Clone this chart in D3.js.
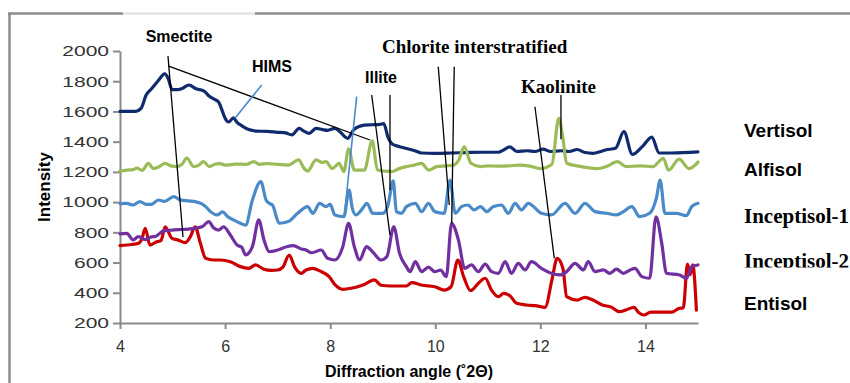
<!DOCTYPE html>
<html>
<head>
<meta charset="utf-8">
<script src="https://cdn.jsdelivr.net/npm/d3@7"></script>
<style>
  html, body { margin: 0; padding: 0; background: #fff; }
  svg { display: block; }
</style>
</head>
<body>
<div id="app"></div>
<script>
const width = 850;
const height = 383;
const plot = { left: 120, right: 698, top: 51, bottom: 323 };
const sans = "'Liberation Sans', Arial, sans-serif";
const serif = "'Liberation Serif', 'Times New Roman', serif";

// x ticks and y ticks
const xTicks = [4, 6, 8, 10, 12, 14];
const yTicks = [200, 400, 600, 800, 1000, 1200, 1400, 1600, 1800, 2000];

// series values: [2theta, intensity]
const vertisol = [[4.0,1600],[4.3,1600],[4.4,1620],[4.5,1710],[4.6,1750],[4.73,1805],[4.85,1848],[4.92,1815],[4.99,1745],[5.1,1745],[5.18,1752],[5.31,1775],[5.45,1750],[5.6,1735],[5.7,1700],[5.8,1680],[5.88,1660],[5.95,1600],[6.0,1555],[6.07,1530],[6.16,1558],[6.22,1530],[6.32,1505],[6.45,1480],[6.6,1470],[6.8,1468],[7.0,1462],[7.15,1458],[7.27,1445],[7.41,1488],[7.5,1470],[7.6,1455],[7.73,1488],[7.85,1480],[7.95,1475],[8.09,1488],[8.2,1460],[8.33,1422],[8.45,1480],[8.55,1500],[8.65,1510],[8.8,1512],[8.95,1515],[9.02,1520],[9.1,1430],[9.18,1385],[9.32,1367],[9.45,1355],[9.6,1342],[9.74,1325],[10.0,1323],[10.3,1325],[10.6,1328],[10.9,1330],[11.2,1330],[11.3,1345],[11.42,1365],[11.55,1335],[11.75,1340],[11.9,1335],[12.05,1350],[12.2,1335],[12.4,1340],[12.55,1335],[12.7,1348],[12.85,1328],[13.0,1323],[13.15,1335],[13.24,1345],[13.43,1356],[13.59,1466],[13.75,1316],[13.94,1367],[14.12,1430],[14.26,1325],[14.5,1325],[15.0,1332]];
const alfisol = [[4.0,1205],[4.13,1212],[4.25,1215],[4.32,1225],[4.42,1210],[4.54,1257],[4.63,1222],[4.75,1235],[4.86,1257],[4.97,1240],[5.08,1235],[5.18,1250],[5.27,1292],[5.4,1235],[5.5,1245],[5.59,1268],[5.7,1235],[5.8,1250],[5.9,1255],[6.0,1245],[6.2,1252],[6.4,1250],[6.55,1268],[6.65,1250],[6.8,1255],[7.0,1250],[7.2,1245],[7.4,1280],[7.5,1225],[7.57,1205],[7.73,1280],[7.85,1262],[7.92,1268],[8.04,1222],[8.17,1257],[8.26,1202],[8.35,1352],[8.46,1212],[8.65,1212],[8.8,1405],[8.9,1212],[9.05,1205],[9.17,1202],[9.3,1220],[9.45,1235],[9.6,1245],[9.74,1257],[9.87,1212],[10.03,1235],[10.2,1240],[10.35,1245],[10.45,1280],[10.55,1365],[10.68,1257],[10.86,1235],[11.0,1240],[11.2,1238],[11.4,1240],[11.6,1245],[11.8,1238],[12.0,1222],[12.22,1250],[12.35,1554],[12.43,1420],[12.5,1257],[12.7,1240],[12.9,1228],[13.07,1222],[13.25,1235],[13.47,1268],[13.63,1235],[13.9,1240],[14.14,1235],[14.34,1290],[14.44,1212],[14.64,1285],[14.83,1222],[15.0,1265]];
const inceptisol1 = [[4.0,990],[4.13,992],[4.25,981],[4.38,1003],[4.5,985],[4.6,985],[4.73,1014],[4.85,1005],[5.02,1036],[5.15,1015],[5.3,1008],[5.43,1003],[5.55,990],[5.63,970],[5.72,937],[5.85,915],[5.95,935],[6.05,904],[6.16,882],[6.29,860],[6.39,848],[6.52,1014],[6.68,1135],[6.78,1014],[6.85,990],[6.9,981],[7.03,860],[7.2,871],[7.38,926],[7.57,970],[7.67,926],[7.8,992],[7.92,970],[8.0,985],[8.09,915],[8.26,904],[8.36,1080],[8.42,960],[8.49,915],[8.6,950],[8.7,992],[8.81,926],[9.0,926],[9.1,980],[9.2,1140],[9.26,937],[9.36,926],[9.45,970],[9.62,992],[9.74,937],[9.87,992],[9.99,937],[10.17,926],[10.28,1146],[10.38,926],[10.5,970],[10.62,981],[10.74,948],[10.86,970],[10.98,937],[11.1,970],[11.26,981],[11.39,926],[11.52,992],[11.64,948],[11.77,992],[12.02,926],[12.21,915],[12.47,992],[12.66,926],[12.85,992],[13.04,937],[13.26,926],[13.45,915],[13.58,937],[13.74,970],[13.89,904],[14.08,926],[14.21,1030],[14.28,1146],[14.37,926],[14.59,926],[14.78,910],[14.88,970],[15.0,992]];
const inceptisol2 = [[4.0,790],[4.13,793],[4.25,750],[4.35,772],[4.48,752],[4.6,770],[4.67,772],[4.83,810],[5.0,815],[5.11,818],[5.25,820],[5.37,825],[5.56,837],[5.69,871],[5.78,830],[5.88,815],[5.97,837],[6.1,782],[6.23,716],[6.32,700],[6.39,650],[6.52,705],[6.64,882],[6.74,750],[6.84,672],[7.0,683],[7.17,705],[7.3,712],[7.45,690],[7.54,683],[7.65,665],[7.83,683],[7.95,628],[8.09,617],[8.24,705],[8.35,859],[8.46,705],[8.56,617],[8.69,705],[8.81,670],[8.97,617],[9.08,640],[9.21,837],[9.32,661],[9.45,573],[9.52,540],[9.62,606],[9.74,540],[9.87,570],[9.99,540],[10.1,550],[10.21,507],[10.31,859],[10.44,750],[10.56,562],[10.69,584],[10.82,540],[10.95,590],[11.07,540],[11.2,529],[11.33,606],[11.45,529],[11.58,595],[11.71,551],[11.83,606],[12.02,562],[12.21,529],[12.37,518],[12.5,540],[12.66,595],[12.82,551],[12.91,606],[13.04,540],[13.2,551],[13.32,529],[13.45,556],[13.58,529],[13.71,551],[13.8,562],[13.93,507],[14.08,496],[14.2,903],[14.31,727],[14.4,529],[14.65,518],[14.78,496],[14.88,573],[15.0,584]];
const entisol = [[4.0,712],[4.13,716],[4.35,727],[4.42,760],[4.48,827],[4.57,716],[4.7,738],[4.78,745],[4.86,837],[4.99,760],[5.1,750],[5.24,732],[5.34,772],[5.43,837],[5.53,727],[5.63,628],[5.78,617],[5.91,617],[6.1,606],[6.29,573],[6.45,562],[6.58,584],[6.74,556],[6.88,548],[7.0,551],[7.1,570],[7.22,650],[7.32,573],[7.45,529],[7.54,551],[7.67,562],[7.8,545],[7.98,507],[8.1,450],[8.24,423],[8.4,430],[8.49,437],[8.65,455],[8.84,485],[8.97,450],[9.15,445],[9.3,445],[9.45,445],[9.55,467],[9.75,450],[9.99,440],[10.17,418],[10.3,440],[10.43,617],[10.54,507],[10.67,415],[10.83,467],[10.95,496],[11.07,418],[11.2,374],[11.3,396],[11.42,380],[11.55,330],[11.74,319],[11.9,315],[12.09,304],[12.22,485],[12.32,628],[12.43,560],[12.5,374],[12.7,352],[12.85,370],[13.0,352],[13.18,319],[13.35,305],[13.5,275],[13.62,285],[13.78,304],[13.87,270],[13.97,253],[14.1,272],[14.3,272],[14.5,272],[14.64,297],[14.72,300],[14.8,590],[14.85,520],[14.9,585],[14.97,285]];

const seriesNames = ["Vertisol", "Entisol", "Inceptisol-2", "Inceptisol-1", "Alfisol"];
const seriesValues = [vertisol, entisol, inceptisol2, inceptisol1, alfisol];
const seriesColors = ["#0f2b6e", "#cc0000", "#70309f", "#4a8ac8", "#9bbb59"];

// annotation pointer lines in data units: [x1, y1, x2, y2]
const blackPointers = [
  [4.913, 1967, 5.199, 769],
  [4.913, 1901, 8.757, 1411],
  [8.79, 1709, 9.138, 782],
  [9.138, 1709, 9.138, 1080],
  [10.057, 1896, 10.266, 981],
  [10.361, 1896, 10.312, 860],
  [11.897, 1631, 12.265, 628],
  [12.392, 1709, 12.392, 1416]
];
const bluePointers = [
  [6.697, 1775, 6.188, 1555],
  [8.504, 1698, 8.268, 903]
];

const xScale = d3.scaleLinear().domain([4, 15]).range([plot.left, plot.right]);
const yScale = d3.scaleLinear().domain([200, 2000]).range([plot.bottom, plot.top]);

const svg = d3.select("#app").append("svg")
  .attr("width", width)
  .attr("height", height);

// outer frame
const frame = svg.append("g").attr("stroke-width", 2.5).attr("fill", "none");
frame.append("line").attr("x1", 9.5).attr("y1", 13.5).attr("x2", 9.5).attr("y2", 400).attr("stroke", "#8c8c8c");
frame.append("line").attr("x1", 8).attr("y1", 13.5).attr("x2", 123).attr("y2", 13.5).attr("stroke", "#8c8c8c");
frame.append("line").attr("x1", 123).attr("y1", 13.5).attr("x2", 255).attr("y2", 13.5).attr("stroke", "#e4e4e4");
frame.append("line").attr("x1", 255).attr("y1", 13.5).attr("x2", 850).attr("y2", 13.5).attr("stroke", "#8c8c8c");

// axes
const yAxis = svg.append("g")
  .attr("transform", `translate(${plot.left},0)`)
  .call(d3.axisLeft(yScale).tickValues(yTicks).tickFormat(d3.format("d")).tickSize(7).tickSizeOuter(0).tickPadding(4));
const xAxis = svg.append("g")
  .attr("transform", `translate(0,${plot.bottom})`)
  .call(d3.axisBottom(xScale).tickValues(xTicks).tickFormat(d3.format("d")).tickSize(6).tickSizeOuter(0).tickPadding(12));

[yAxis, xAxis].forEach((ax) => {
  ax.select(".domain").attr("stroke", "#8a8a8a").attr("stroke-width", 2);
  ax.selectAll(".tick line").attr("stroke", "#8a8a8a").attr("stroke-width", 2);
  ax.selectAll("text").attr("fill", "#333").style("font-family", sans);
});
xAxis.selectAll("text").style("font-size", "16px");
yAxis.selectAll("text").style("font-size", "15px").each(function () {
  const len = this.getComputedTextLength();
  d3.select(this).attr("textLength", len * 1.4).attr("lengthAdjust", "spacingAndGlyphs");
});

// axis titles
svg.append("text")
  .attr("transform", `translate(50,187) rotate(-90)`)
  .attr("text-anchor", "middle")
  .style("font-family", sans).style("font-weight", "bold").style("font-size", "17px")
  .text("Intensity");
svg.append("text")
  .attr("x", (plot.left + plot.right) / 2)
  .attr("y", 377)
  .attr("text-anchor", "middle")
  .style("font-family", sans).style("font-weight", "bold").style("font-size", "16px")
  .text("Diffraction angle (˚2Θ)");

// series
const line = d3.line()
  .x((d) => xScale(d[0]))
  .y((d) => yScale(d[1]))
  .curve(d3.curveMonotoneX);

seriesValues.forEach((values, i) => {
  svg.append("path")
    .datum(values)
    .attr("class", "series")
    .attr("data-name", seriesNames[i])
    .attr("fill", "none")
    .attr("stroke", seriesColors[i])
    .attr("stroke-width", 3.2)
    .attr("stroke-linejoin", "round")
    .attr("stroke-linecap", "round")
    .attr("d", line);
});

// pointer lines
svg.selectAll("line.pointer")
  .data(blackPointers)
  .enter()
  .append("line")
  .attr("class", "pointer")
  .attr("x1", (d) => xScale(d[0]))
  .attr("y1", (d) => yScale(d[1]))
  .attr("x2", (d) => xScale(d[2]))
  .attr("y2", (d) => yScale(d[3]))
  .attr("stroke", "#000")
  .attr("stroke-width", 1.3);

svg.selectAll("line.bpointer")
  .data(bluePointers)
  .enter()
  .append("line")
  .attr("class", "bpointer")
  .attr("x1", (d) => xScale(d[0]))
  .attr("y1", (d) => yScale(d[1]))
  .attr("x2", (d) => xScale(d[2]))
  .attr("y2", (d) => yScale(d[3]))
  .attr("stroke", "#4a8ac8")
  .attr("stroke-width", 1.6);

// mineral labels
const mineralLabels = [
  { text: "Smectite", x: 179, y: 42, anchor: "middle", font: sans, size: 16 },
  { text: "HIMS", x: 252, y: 72, anchor: "start", font: sans, size: 16 },
  { text: "Illite", x: 365, y: 83, anchor: "start", font: sans, size: 16 },
  { text: "Chlorite interstratified", x: 382, y: 53, anchor: "start", font: serif, size: 19 },
  { text: "Kaolinite", x: 521, y: 93, anchor: "start", font: serif, size: 19 }
];
mineralLabels.forEach((l) => {
  svg.append("text")
    .attr("x", l.x).attr("y", l.y)
    .attr("text-anchor", l.anchor)
    .style("font-family", l.font).style("font-weight", "bold").style("font-size", l.size + "px")
    .text(l.text);
});

// soil labels on the right
svg.append("clipPath").attr("id", "cut2")
  .append("rect").attr("x", 700).attr("y", 240).attr("width", 200).attr("height", 27.5);

const soilLabels = [
  { text: "Vertisol", y: 137, font: sans, size: 19 },
  { text: "Alfisol", y: 176, font: sans, size: 19 },
  { text: "Inceptisol-1", y: 223, font: serif, size: 21 },
  { text: "Inceptisol-2", y: 268, font: serif, size: 21, clip: true },
  { text: "Entisol", y: 310, font: sans, size: 19 }
];
soilLabels.forEach((l) => {
  const t = svg.append("text")
    .attr("x", 744).attr("y", l.y)
    .style("font-family", l.font).style("font-weight", "bold").style("font-size", l.size + "px")
    .text(l.text);
  if (l.clip) t.attr("clip-path", "url(#cut2)");
});
</script>
</body>
</html>
